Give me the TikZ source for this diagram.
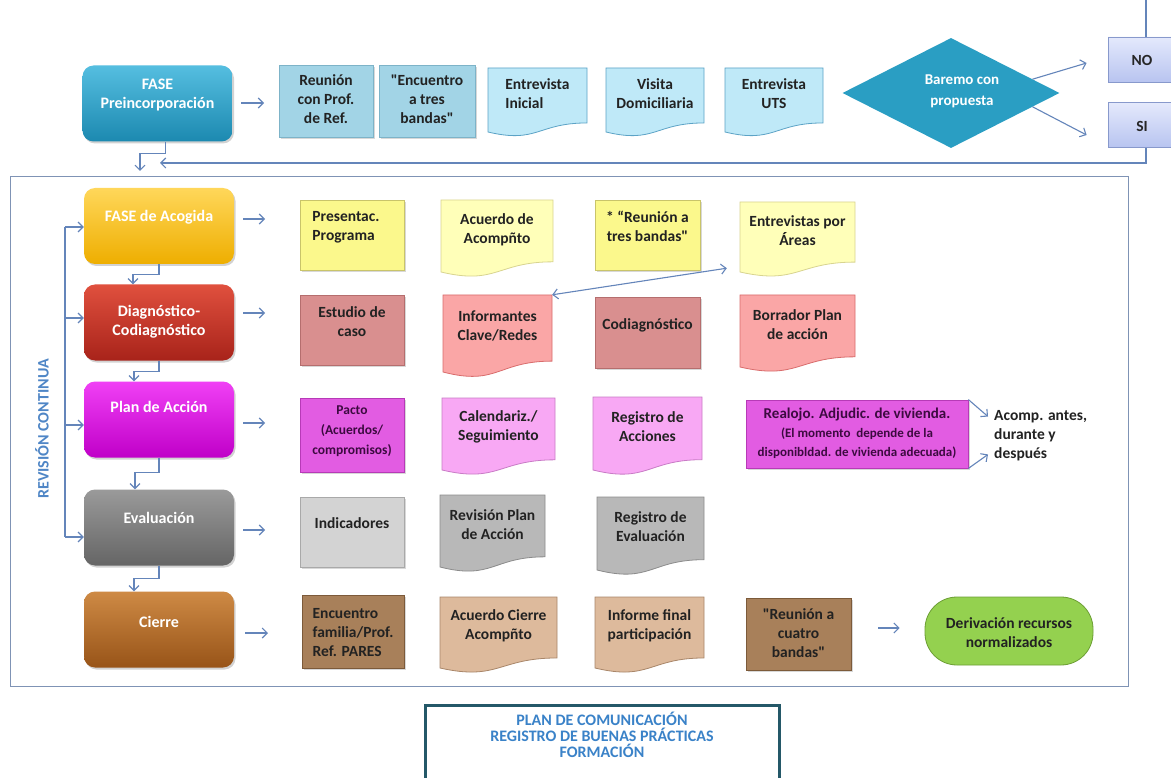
\documentclass[tikz,border=0pt]{standalone}
\usepackage{fontspec}
\newfontfamily\cfont{Carlito}
\usetikzlibrary{arrows.meta,shapes.geometric,shapes.misc,shadows,calc}

\definecolor{ln}{HTML}{6485BA}
\definecolor{frm}{HTML}{7F93B5}
\definecolor{txtc}{HTML}{222222}
\definecolor{preT}{HTML}{55BEE0}\definecolor{preB}{HTML}{1C89B0}
\definecolor{acT}{HTML}{FFD75A}\definecolor{acB}{HTML}{EEAE00}
\definecolor{dgT}{HTML}{E0503E}\definecolor{dgB}{HTML}{A8231A}
\definecolor{plT}{HTML}{F040F5}\definecolor{plB}{HTML}{C000C8}
\definecolor{evT}{HTML}{9A9A9A}\definecolor{evB}{HTML}{656565}
\definecolor{ciT}{HTML}{CE8A45}\definecolor{ciB}{HTML}{985418}
\definecolor{bluF}{HTML}{A2D4E6}\definecolor{bluD}{HTML}{7DB3C8}
\definecolor{bldF}{HTML}{BFE9F8}\definecolor{bldD}{HTML}{5CA3C6}
\definecolor{yelF}{HTML}{FBF88C}\definecolor{yelD}{HTML}{C9C46A}
\definecolor{yldF}{HTML}{FFFFB9}\definecolor{yldD}{HTML}{D8D490}
\definecolor{rosF}{HTML}{D98F8F}\definecolor{rosD}{HTML}{B56E6E}
\definecolor{pkdF}{HTML}{FAA6A6}\definecolor{pkdD}{HTML}{D96C6C}
\definecolor{magF}{HTML}{E25CE2}\definecolor{magD}{HTML}{B73AB7}
\definecolor{lidF}{HTML}{F8A8F4}\definecolor{lidD}{HTML}{C97BC6}
\definecolor{gryF}{HTML}{D3D3D3}\definecolor{gryD}{HTML}{A9A9A9}
\definecolor{grdF}{HTML}{B8B8B8}\definecolor{grdD}{HTML}{8C8C8C}
\definecolor{brnF}{HTML}{A8805A}\definecolor{brnD}{HTML}{7C5A3A}
\definecolor{tndF}{HTML}{DDBA9C}\definecolor{tndD}{HTML}{A98669}
\definecolor{grnF}{HTML}{94D14F}\definecolor{grnD}{HTML}{6C9E34}
\definecolor{nsT}{HTML}{E4E9FC}\definecolor{nsB}{HTML}{B8C4F0}\definecolor{nsD}{HTML}{8899CC}
\definecolor{diaF}{HTML}{2A9EC3}
\definecolor{purT}{HTML}{3C0A40}
\definecolor{botD}{HTML}{245868}\definecolor{botT}{HTML}{3A82C8}
\definecolor{revT}{HTML}{4F86C6}

% document shape: [text opts]{name}{x1}{ytop}{x2}{y left bottom}{fill}{draw}{text}
\newcommand{\docbox}[9][]{%
  \pgfmathsetmacro{\dsH}{(#6-#4)/0.934}%
  \pgfmathsetmacro{\dsR}{#4+0.802*\dsH}%
  \pgfmathsetmacro{\dsC}{#4+1.107*\dsH}%
  \pgfmathsetmacro{\dsM}{(#3+#5)/2}%
  \pgfmathsetmacro{\dsT}{#4+0.38*\dsH}%
  \pgfmathsetmacro{\dsW}{#5-#3}%
  \pgfmathsetmacro{\dsV}{#6-#4}%
  \pgfmathsetmacro{\dsY}{(#4+#6)/2}%
  \filldraw[fill=#7, draw=#8, line width=0.8pt] (#3,#4) -- (#5,#4) -- (#5,\dsR) .. controls (\dsM,\dsR) and (\dsM,\dsC) .. (#3,#6) -- cycle;
  \node[inner sep=0pt, minimum width=\dsW pt, minimum height=\dsV pt] (#2) at (\dsM,\dsY) {};
  \node[txt,#1] (#2T) at (\dsM,\dsT) {#9};
}

\begin{document}
\begin{tikzpicture}[x=1pt,y=-1pt,
  txt/.style={font=\cfont\fontsize{15.5}{19}\selectfont\bfseries, text=txtc, align=center, inner sep=0pt},
  wtxt/.style={font=\cfont\fontsize{16}{19}\selectfont\bfseries, text=white, align=center, inner sep=0pt},
  phase/.style={rounded corners=11pt, minimum width=150pt, minimum height=76pt, inner sep=0pt,
     drop shadow={shadow xshift=1.5pt,shadow yshift=-2pt,opacity=0.35}},
  rbox/.style={draw=#1, line width=0.8pt, inner sep=0pt,
     drop shadow={shadow xshift=2pt,shadow yshift=-2pt,opacity=0.3}},
  arr/.style={draw=ln, line width=1.1pt, -{Straight Barb[length=5pt,width=10pt]}},
  dbl/.style={draw=ln, line width=1.1pt, {Straight Barb[length=5pt,width=10pt]}-{Straight Barb[length=5pt,width=10pt]}},
  plain/.style={draw=ln, line width=1.1pt},
  nosi/.style={chamfered rectangle, chamfered rectangle corners=north west,
     chamfered rectangle xsep=9pt, chamfered rectangle ysep=9pt,
     draw=nsD, line width=0.8pt, top color=nsT, bottom color=nsB,
     minimum width=68pt, minimum height=45pt, inner sep=0pt},
]
\useasboundingbox (0,0) rectangle (1171,778);
\clip (0,0) rectangle (1171,778);
\fill[white] (0,0) rectangle (1171,778);

% ---------- frame ----------
\draw[frm, line width=1pt] (10,177) rectangle (1128,686);

% ---------- top row ----------
\node[phase, top color=preT, bottom color=preB] (preinc) at (157.5,103.5) {};
\node[wtxt] (preincT) at (157.5,95) {FASE\\Preincorporación};

\node[rbox=bluD, fill=bluF, minimum width=94pt, minimum height=72pt] (reun1) at (326,101) {};
\node[txt] (reun1T) at (326,99) {Reunión\\con Prof.\\de Ref.};
\node[rbox=bluD, fill=bluF, minimum width=96pt, minimum height=72pt] (enc3) at (427,101) {};
\node[txt] (enc3T) at (427,99) {"Encuentro\\a tres\\bandas"};

\docbox[align=left]{entIni}{488}{68}{587}{132}{bldF}{bldD}{Entrevista\\Inicial}
\docbox{visita}{606}{68}{704}{132}{bldF}{bldD}{Visita\\Domiciliaria}
\docbox{entUTS}{725}{68}{823}{132}{bldF}{bldD}{Entrevista\\UTS}

\node[diamond, fill=diaF, minimum width=217pt, minimum height=110pt, inner sep=0pt] (dia) at (951,93) {};
\node[wtxt, font=\cfont\fontsize{15}{21}\selectfont\bfseries] (diaT) at (962,91) {Baremo con\\propuesta};

\node[nosi] (no) at (1142,59.5) {};
\node[txt, text=black!85] (noT) at (1142,60) {NO};
\node[nosi] (si) at (1142,125) {};
\node[txt, text=black!85] (siT) at (1142,126) {SI};

\coordinate (topin) at (1146,-2);
\coordinate (ret) at (160,163);
\coordinate (preA) at (241,103);
\coordinate (preB2) at (264,103);
\coordinate (preDn) at (140,171);

\draw[arr] (preA) -- (preB2);
\draw[arr] ($(dia.north east)!0.5!(dia.east)$) -- ([xshift=-21pt,yshift=-3.5pt]no.west);
\draw[arr] ($(dia.south east)!0.5!(dia.east)$) -- ([xshift=-21pt,yshift=-10pt]si.west);
\draw[plain] (topin) -- (topin |- no.north);
\draw[arr] (topin |- si.south) |- (ret);
\draw[arr] ([xshift=8pt]preinc.south) -- ++(0,12) -| (preDn);

% ---------- phases ----------
\node[phase, top color=acT, bottom color=acB] (acog) at (159,226) {};
\node[wtxt] (acogT) at (159,217) {FASE de Acogida};
\node[phase, top color=dgT, bottom color=dgB] (diag) at (159,322.5) {};
\node[wtxt] (diagT) at (159,322) {Diagnóstico-\\Codiagnóstico};
\node[phase, top color=plT, bottom color=plB] (plan) at (159,419.5) {};
\node[wtxt] (planT) at (159,407) {Plan de Acción};
\node[phase, top color=evT, bottom color=evB] (eval) at (159,527.5) {};
\node[wtxt] (evalT) at (159,518) {Evaluación};
\node[phase, top color=ciT, bottom color=ciB] (cierre) at (159,629.5) {};
\node[wtxt] (cierreT) at (159,622) {Cierre};

\draw[arr] (acog.south) -- ++(0,10) -| ([xshift=-26pt]diag.north);
\draw[arr] (diag.south) -- ++(0,11) -| ([xshift=-25pt]plan.north);
\draw[arr] (plan.south) -- ++(0,15) -| ([xshift=-24pt]eval.north);
\draw[arr] (eval.south) -- ++(0,13) -| ([xshift=-25pt]cierre.north);

% revision line
\coordinate (r1) at (65,227);
\coordinate (r2) at (65,318);
\coordinate (r3) at (65,425);
\coordinate (r4) at (65,537);
\draw[plain] (r1) -- (r4);
\draw[arr] (r1) -- (r1 -| acog.west);
\draw[arr] (r2) -- (r2 -| diag.west);
\draw[arr] (r3) -- (r3 -| plan.west);
\draw[arr] (r4) -- (r4 -| eval.west);
\node[rotate=90, font=\cfont\fontsize{16}{18}\selectfont\bfseries, text=revT, inner sep=0pt] (rev) at (42,429) {REVISIÓN CONTINUA};

% phase -> row arrows
\coordinate (a1s) at (243,219); \coordinate (a1e) at (265,219);
\coordinate (a2s) at (243,313); \coordinate (a2e) at (265,313);
\coordinate (a3s) at (243,423); \coordinate (a3e) at (265,423);
\coordinate (a4s) at (243,530); \coordinate (a4e) at (265,530);
\coordinate (a5s) at (245,633); \coordinate (a5e) at (268,633);
\draw[arr] (a1s) -- (a1e);
\draw[arr] (a2s) -- (a2e);
\draw[arr] (a3s) -- (a3e);
\draw[arr] (a4s) -- (a4e);
\draw[arr] (a5s) -- (a5e);

% ---------- row 1: acogida ----------
\node[rbox=yelD, fill=yelF, minimum width=104pt, minimum height=70pt] (pres) at (352,235) {};
\node[txt, align=left] (presT) at (346,227) {Presentac.\\Programa};
\docbox{acu}{441}{200}{553}{272}{yldF}{yldD}{Acuerdo de\\Acompñto}
\node[rbox=yelD, fill=yelF, minimum width=105pt, minimum height=70pt] (reu3) at (647.5,235) {};
\node[txt] (reu3T) at (647.5,226) {* “Reunión a\\tres bandas"};
\docbox{entA}{740}{202}{855}{272}{yldF}{yldD}{Entrevistas por\\Áreas}

% ---------- row 2: diagnostico ----------
\node[rbox=rosD, fill=rosF, minimum width=104pt, minimum height=70pt] (est) at (352,330) {};
\node[txt] (estT) at (352,322) {Estudio de\\caso};
\docbox{inf}{443}{295}{552}{372}{pkdF}{pkdD}{Informantes\\Clave/Redes}
\node[rbox=rosD, fill=rosF, minimum width=105pt, minimum height=71pt] (codg) at (647.5,332.5) {};
\node[txt] (codgT) at (647.5,325) {Codiagnóstico};
\docbox{borr}{740}{295}{855}{367}{pkdF}{pkdD}{Borrador Plan\\de acción}

\draw[dbl] (inf.north east) -- ([xshift=-13pt,yshift=4pt]entA.south west);

% ---------- row 3: plan ----------
\node[rbox=magD, fill=magF, minimum width=104pt, minimum height=74pt] (pacto) at (352,435) {};
\node[txt, text=purT, font=\cfont\fontsize{13.5}{20}\selectfont\bfseries] (pactoT) at (352,431) {Pacto\\(Acuerdos/\\compromisos)};
\docbox{cal}{442}{398}{555}{470}{lidF}{lidD}{Calendariz./\\Seguimiento}
\docbox{regA}{593}{397}{702}{470}{lidF}{lidD}{Registro de\\Acciones}
\node[rbox=magD, fill=magF, minimum width=222pt, minimum height=68pt] (realojo) at (857,434) {};
\node[txt, text=purT] (realojoT) at (857,433) {{\fontsize{15}{19}\selectfont Realojo. Adjudic. de vivienda.}\\{\fontsize{13}{18}\selectfont (El momento\ \ depende de la}\\{\fontsize{13}{18}\selectfont disponibldad. de vivienda adecuada)}};
\node[txt, align=left, anchor=west] (acomp) at (994,436) {Acomp. antes,\\durante y\\después};
\draw[arr] (realojo.north east) -- ([xshift=-6pt,yshift=-6pt]acomp.north west);
\draw[arr] (realojo.south east) -- ([xshift=-6pt,yshift=7pt]acomp.south west);

% ---------- row 4: evaluacion ----------
\node[rbox=gryD, fill=gryF, minimum width=104pt, minimum height=70pt] (ind) at (352,532) {};
\node[txt] (indT) at (352,523) {Indicadores};
\docbox{revP}{440}{495}{545}{567}{grdF}{grdD}{Revisión Plan\\de Acción}
\docbox{regE}{597}{497}{704}{570}{grdF}{grdD}{Registro de\\Evaluación}

% ---------- row 5: cierre ----------
\node[rbox=brnD, fill=brnF, minimum width=102pt, minimum height=73pt] (encF) at (353,631.5) {};
\node[txt, align=left] (encFT) at (353,633) {Encuentro\\familia/Prof.\\Ref. PARES};
\docbox{acuC}{440}{597}{557}{668}{tndF}{tndD}{Acuerdo Cierre\\Acompñto}
\docbox{infF}{595}{597}{704}{668}{tndF}{tndD}{Informe final\\participación}
\node[rbox=brnD, fill=brnF, minimum width=105pt, minimum height=72pt] (reu4) at (798.5,634) {};
\node[txt] (reu4T) at (798.5,633) {"Reunión a\\cuatro\\bandas"};
\node[draw=grnD, line width=0.8pt, fill=grnF, rounded corners=32pt, minimum width=168pt, minimum height=68pt, inner sep=0pt] (deriv) at (1009,631) {};
\node[txt] (derivT) at (1009,633) {Derivación recursos\\normalizados};
\draw[arr] ([xshift=27pt,yshift=6pt]reu4.east) -- ([xshift=-25pt,yshift=3pt]deriv.west);

% ---------- bottom box ----------
\node[draw=botD, line width=3pt, fill=white, minimum width=354pt, minimum height=90pt, inner sep=0pt] (bot) at (602,750) {};
\node[font=\cfont\fontsize{16}{16}\selectfont\bfseries, text=botT, align=center, inner sep=0pt] (botT) at (602,735) {PLAN DE COMUNICACIÓN\\REGISTRO DE BUENAS PRÁCTICAS\\FORMACIÓN};
\end{tikzpicture}
\end{document}
